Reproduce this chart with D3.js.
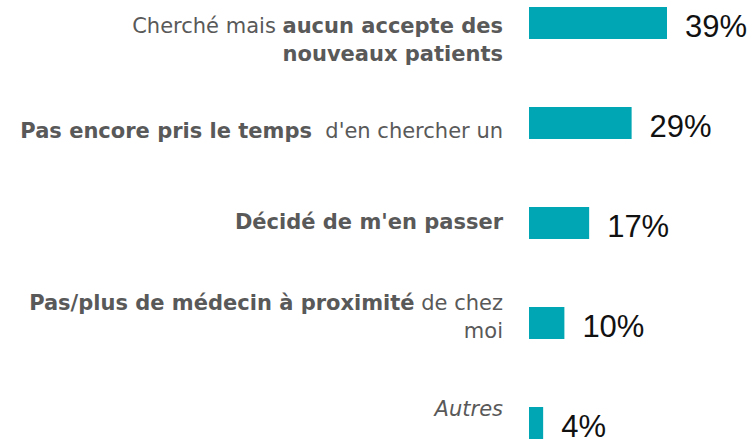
<!DOCTYPE html>
<html>
<head>
<meta charset="utf-8">
<script src="https://cdn.jsdelivr.net/npm/d3@7"></script>
<style>
    body { margin: 0; background: #fff; }
    svg { display: block; }
    .label { font-family: 'DejaVu Sans', sans-serif; font-size: 21px; fill: #595959; white-space: pre; }
    .value { font-family: 'Liberation Sans', Arial, sans-serif; font-size: 31px; fill: #111; }
</style>
</head>
<body>
<svg width="748" height="439"></svg>
<script>
// each label is a list of lines, each line a list of [text, style] ('n' normal, 'b' bold, 'i' italic)
const LABELS = [
    [[['Cherché mais ', 'n'], ['aucun accepte des', 'b']], [['nouveaux patients', 'b']]],
    [[['Pas encore pris le temps', 'b'], ['  d\'en chercher un', 'n']]],
    [[['Décidé de m\'en passer', 'b']]],
    [[['Pas/plus de médecin à proximité', 'b'], [' de chez', 'n']], [['moi', 'n']]],
    [[['Autres', 'i']]]
];
const VALUES = [39, 29, 17, 10, 4];

const w = 748;
const h = 439;
const COLOR = '#00A6B4';
// baseline of first label line relative to bar centre (text boxes aren't all centred in the source)
const labelShift = [10, 15, 6, -13, -7];
const lineHeight = 28;

const svg = d3.select('svg');

const y = d3.scaleBand()
    .domain(d3.range(VALUES.length))
    .range([7, 439])
    .paddingInner(0.68)
    .paddingOuter(0);

const x = d3.scaleLinear()
    .domain([0, 39])
    .range([529, 667]);

svg.append('g')
    .selectAll('rect')
    .data(VALUES)
    .enter()
    .append('rect')
    .attr('x', x(0))
    .attr('y', (d, i) => y(i))
    .attr('width', d => x(d) - x(0))
    .attr('height', y.bandwidth())
    .attr('fill', COLOR);

svg.append('g')
    .selectAll('text')
    .data(VALUES)
    .enter()
    .append('text')
    .attr('class', 'value')
    .attr('x', d => x(d) + 18)
    .attr('y', (d, i) => y(i) + y.bandwidth() - 2)
    .text(d => d + '%');

const labels = svg.append('g');
LABELS.forEach((lines, i) => {
    const cy = y(i) + y.bandwidth() / 2;
    lines.forEach((parts, j) => {
        const t = labels.append('text')
            .attr('class', 'label')
            .attr('text-anchor', 'end')
            .attr('x', 503)
            .attr('y', cy + labelShift[i] + j * lineHeight);
        parts.forEach(([txt, s]) => {
            t.append('tspan')
                .attr('font-weight', s === 'b' ? 'bold' : 'normal')
                .attr('font-style', s === 'i' ? 'italic' : 'normal')
                .text(txt);
        });
    });
});
</script>
</body>
</html>
